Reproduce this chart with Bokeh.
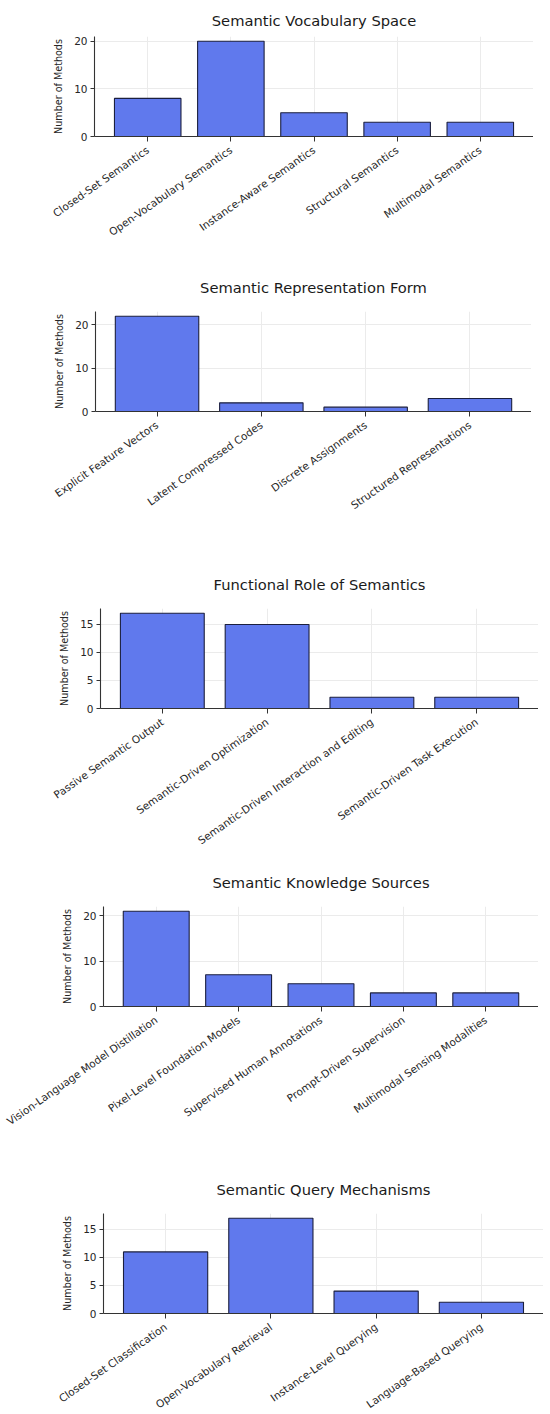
import math
from bokeh.plotting import figure
from bokeh.models import FactorRange, Range1d, SingleIntervalTicker
from bokeh.layouts import column
from bokeh.embed import file_html
from bokeh.resources import INLINE

# ---- data ----
vocab_title = "Semantic Vocabulary Space"
vocab_categories = ["Closed-Set Semantics", "Open-Vocabulary Semantics",
                    "Instance-Aware Semantics", "Structural Semantics",
                    "Multimodal Semantics"]
vocab_counts = [8, 20, 5, 3, 3]

repr_title = "Semantic Representation Form"
repr_categories = ["Explicit Feature Vectors", "Latent Compressed Codes",
                   "Discrete Assignments", "Structured Representations"]
repr_counts = [22, 2, 1, 3]

role_title = "Functional Role of Semantics"
role_categories = ["Passive Semantic Output", "Semantic-Driven Optimization",
                   "Semantic-Driven Interaction and Editing",
                   "Semantic-Driven Task Execution"]
role_counts = [17, 15, 2, 2]

source_title = "Semantic Knowledge Sources"
source_categories = ["Vision-Language Model Distillation",
                     "Pixel-Level Foundation Models",
                     "Supervised Human Annotations",
                     "Prompt-Driven Supervision",
                     "Multimodal Sensing Modalities"]
source_counts = [21, 7, 5, 3, 3]

query_title = "Semantic Query Mechanisms"
query_categories = ["Closed-Set Classification", "Open-Vocabulary Retrieval",
                    "Instance-Level Querying", "Language-Based Querying"]
query_counts = [11, 17, 4, 2]

y_label = "Number of Methods"

FONT = "DejaVu Sans"
BAR_FILL = "#6079ED"
BAR_EDGE = "#1b1f3e"
AXIS_COLOR = "#333333"
TEXT_COLOR = "#262626"
GRID_COLOR = "#ebebeb"


def make_chart(title, cats, counts, left, frame_w, top, bottom, tick_step,
               title_standoff):
    n = len(cats)
    # matplotlib-like margins; bokeh applies absolute padding on each side
    pad = (1.1 * (n - 0.2) - n) / 2
    p = figure(
        x_range=FactorRange(*cats, range_padding=pad,
                            range_padding_units="absolute"),
        y_range=Range1d(0, max(counts) * 1.05),
        frame_width=frame_w, frame_height=100,
        min_border_left=left, min_border_right=0,
        min_border_top=top, min_border_bottom=bottom,
        toolbar_location=None, output_backend="svg", title=title,
        frame_align=False,
    )
    p.vbar(x=cats, top=counts, width=0.8, fill_color=BAR_FILL,
           line_color=BAR_EDGE, line_width=1.1)

    p.title.text_font = FONT
    p.title.text_font_size = "14.7px"
    p.title.text_font_style = "normal"
    p.title.text_color = "#1a1a1a"
    p.title.align = "center"
    p.title.standoff = title_standoff

    p.outline_line_color = None
    p.background_fill_color = "white"
    p.border_fill_color = "white"

    p.xgrid.grid_line_color = GRID_COLOR
    p.ygrid.grid_line_color = GRID_COLOR
    p.xgrid.grid_line_width = 1
    p.ygrid.grid_line_width = 1

    p.yaxis.ticker = SingleIntervalTicker(interval=tick_step, num_minor_ticks=0)

    for ax in (p.xaxis[0], p.yaxis[0]):
        ax.axis_line_color = AXIS_COLOR
        ax.axis_line_width = 1.1
        ax.major_tick_line_color = AXIS_COLOR
        ax.major_tick_in = 0
        ax.major_tick_out = 4
        ax.minor_tick_line_color = None
        ax.major_label_text_font = FONT
        ax.major_label_text_font_size = "10.5px"
        ax.major_label_text_color = TEXT_COLOR
        ax.major_label_standoff = 3

    p.xaxis.major_label_orientation = math.radians(35)
    p.xaxis.major_tick_out = 5
    p.xaxis.major_label_standoff = 7

    p.yaxis.axis_label = y_label
    p.yaxis.axis_label_text_font = FONT
    p.yaxis.axis_label_text_font_size = "9.6px"
    p.yaxis.axis_label_text_font_style = "normal"
    p.yaxis.axis_label_text_color = TEXT_COLOR
    p.yaxis.axis_label_standoff = 7
    return p


p1 = make_chart(vocab_title, vocab_categories, vocab_counts,
                94, 439, 36, 123, 10, 16)
p2 = make_chart(repr_title, repr_categories, repr_counts,
                95, 436, 52, 145, 10, 31)
p3 = make_chart(role_title, role_categories, role_counts,
                100, 438, 52, 146, 5, 31)
p4 = make_chart(source_title, source_categories, source_counts,
                103, 435, 52, 155, 10, 31)
p5 = make_chart(query_title, query_categories, query_counts,
                103, 440, 52, 100, 5, 31)

layout = column(p1, p2, p3, p4, p5, spacing=0)

with open("out.html", "w") as f:
    f.write(file_html(layout, INLINE))
